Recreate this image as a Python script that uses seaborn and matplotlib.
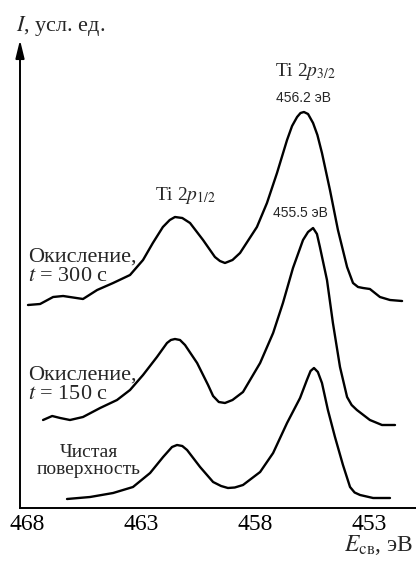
import numpy as np
import pandas as pd
import matplotlib
matplotlib.use("Agg")
import matplotlib.pyplot as plt
import seaborn as sns

# --- Данные (энергия связи, эВ / интенсивность, усл. ед.) ---
e_300 = [467.96, 467.43, 466.86, 466.42, 465.55, 464.93, 464.23, 463.49, 462.92,
         462.49, 462.05, 461.75, 461.52, 461.20, 460.86, 460.29, 459.77, 459.55,
         459.33, 459.00, 458.67, 457.93, 457.49, 457.05, 456.61, 456.39, 456.17,
         456.02, 455.87, 455.69, 455.47, 455.28, 455.08, 454.73, 454.38, 453.98,
         453.72, 453.50, 453.28, 452.98, 452.54, 452.10, 451.57]
i_300 = [20.3, 20.4, 21.1, 21.2, 20.9, 21.8, 22.5, 23.3, 24.8,
         26.5, 28.1, 28.8, 29.1, 29.0, 28.5, 26.8, 25.1, 24.7,
         24.5, 24.8, 25.5, 28.1, 30.5, 33.5, 36.8, 38.2, 39.1,
         39.5, 39.6, 39.4, 38.5, 37.3, 35.5, 31.8, 27.8, 24.1,
         22.5, 22.1, 22.0, 21.9, 21.1, 20.8, 20.7]

e_150 = [467.30, 466.90, 466.55, 466.12, 465.55, 464.80, 464.06, 463.49, 462.92,
         462.31, 461.87, 461.70, 461.52, 461.30, 461.08, 460.55, 460.07, 459.85,
         459.60, 459.33, 459.00, 458.54, 457.79, 457.22, 456.79, 456.35, 455.91,
         455.69, 455.47, 455.30, 455.17, 454.86, 454.60, 454.29, 453.98, 453.78,
         453.55, 452.98, 452.45, 451.88]
i_150 = [8.8, 9.2, 9.0, 8.8, 9.1, 10.0, 10.8, 11.8, 13.3,
         15.1, 16.5, 16.8, 16.9, 16.8, 16.3, 14.5, 12.3, 11.2,
         10.6, 10.5, 10.8, 11.6, 14.5, 17.5, 20.5, 24.0, 26.8,
         27.6, 28.0, 27.4, 26.1, 22.8, 18.5, 14.1, 11.1, 10.3,
         9.8, 8.8, 8.3, 8.3]

e_clean = [466.25, 465.24, 464.23, 463.36, 462.61, 462.04, 461.65, 461.43, 461.20,
           460.99, 460.42, 459.85, 459.50, 459.20, 458.90, 458.54, 457.79, 457.22,
           456.61, 456.04, 455.74, 455.58, 455.43, 455.26, 455.08, 454.82, 454.51,
           454.16, 453.85, 453.65, 453.41, 452.84, 452.10]
i_clean = [0.9, 1.1, 1.5, 2.1, 3.5, 5.1, 6.1, 6.3, 6.2,
           5.8, 4.1, 2.6, 2.2, 2.0, 2.05, 2.3, 3.6, 5.5,
           8.5, 11.0, 12.8, 13.7, 14.0, 13.6, 12.5, 9.8, 7.1,
           4.3, 2.1, 1.55, 1.3, 1.0, 1.0]

x_ticks = [468, 463, 458, 453]

spectra = pd.concat([
    pd.DataFrame({"E": e_300, "I": i_300, "обр": "300"}),
    pd.DataFrame({"E": e_150, "I": i_150, "обр": "150"}),
    pd.DataFrame({"E": e_clean, "I": i_clean, "обр": "чист"}),
], ignore_index=True)

# --- Оформление ---
sns.set_style("white")
plt.rcParams["font.family"] = ["Liberation Serif", "DejaVu Serif"]
plt.rcParams["mathtext.fontset"] = "stix"

fig = plt.figure(figsize=(4.16, 5.65), dpi=100)
ax = fig.add_axes([20 / 416, 57 / 565, 396 / 416, 468 / 565])

for name, grp in spectra.groupby("обр", sort=False):
    sns.lineplot(data=grp, x="E", y="I", sort=False, estimator=None,
                 color="black", linewidth=1.7, ax=ax,
                 solid_joinstyle="round", solid_capstyle="round")

ax.set_xlim(468.31, 450.96)
ax.set_ylim(0, 46.8)
ax.set_xticks(x_ticks)
ax.set_xticklabels([str(t) for t in x_ticks])
ax.set_yticks([])
ax.tick_params(axis="x", direction="in", length=6, width=1.2, pad=4,
               labelsize=17, colors="black")
ax.set_xlabel("")
ax.set_ylabel("")
for s in ["top", "right", "left"]:
    ax.spines[s].set_visible(False)
ax.spines["bottom"].set_linewidth(1.4)
ax.spines["bottom"].set_color("black")

# ось I со стрелкой
ax.annotate("", xy=(0, 1), xytext=(0, 0), xycoords="axes fraction",
            textcoords="axes fraction",
            arrowprops=dict(arrowstyle="-|>,head_length=0.9,head_width=0.22",
                            color="black", lw=1.4, mutation_scale=12,
                            shrinkA=0, shrinkB=0),
            annotation_clip=False)

fig.text(16 / 416, 1 - 26 / 565, "$\\mathbf{\\mathit{I}}$, усл. ед.", fontsize=16,
         ha="left", va="center")
fig.text(379 / 416, 1 - 545 / 565, "$E_{\\mathrm{св}}$, эВ", fontsize=17,
         ha="center", va="center")

# подписи пиков
ax.text(455.82, 43.6, "Ti 2$p_{3/2}$", fontsize=14, ha="center", va="center")
ax.text(455.91, 41.0, "456.2 эВ", fontsize=10, ha="center", va="center",
        family=["Liberation Sans", "DejaVu Sans"])
ax.text(461.08, 31.3, "Ti 2$p_{1/2}$", fontsize=14, ha="center", va="center")
ax.text(456.04, 29.5, "455.5 эВ", fontsize=10, ha="center", va="center",
        family=["Liberation Sans", "DejaVu Sans"])

# подписи спектров
ax.text(467.96, 24.1, "Окисление,\n$t$ = 300 с", fontsize=16, ha="left",
        va="center", linespacing=1.0)
ax.text(467.96, 12.3, "Окисление,\n$t$ = 150 с", fontsize=16, ha="left",
        va="center", linespacing=1.0)
ax.text(465.28, 4.7, "Чистая\nповерхность", fontsize=14, ha="center",
        va="center", linespacing=1.0, multialignment="center")

fig.savefig("out.png", dpi=100)
